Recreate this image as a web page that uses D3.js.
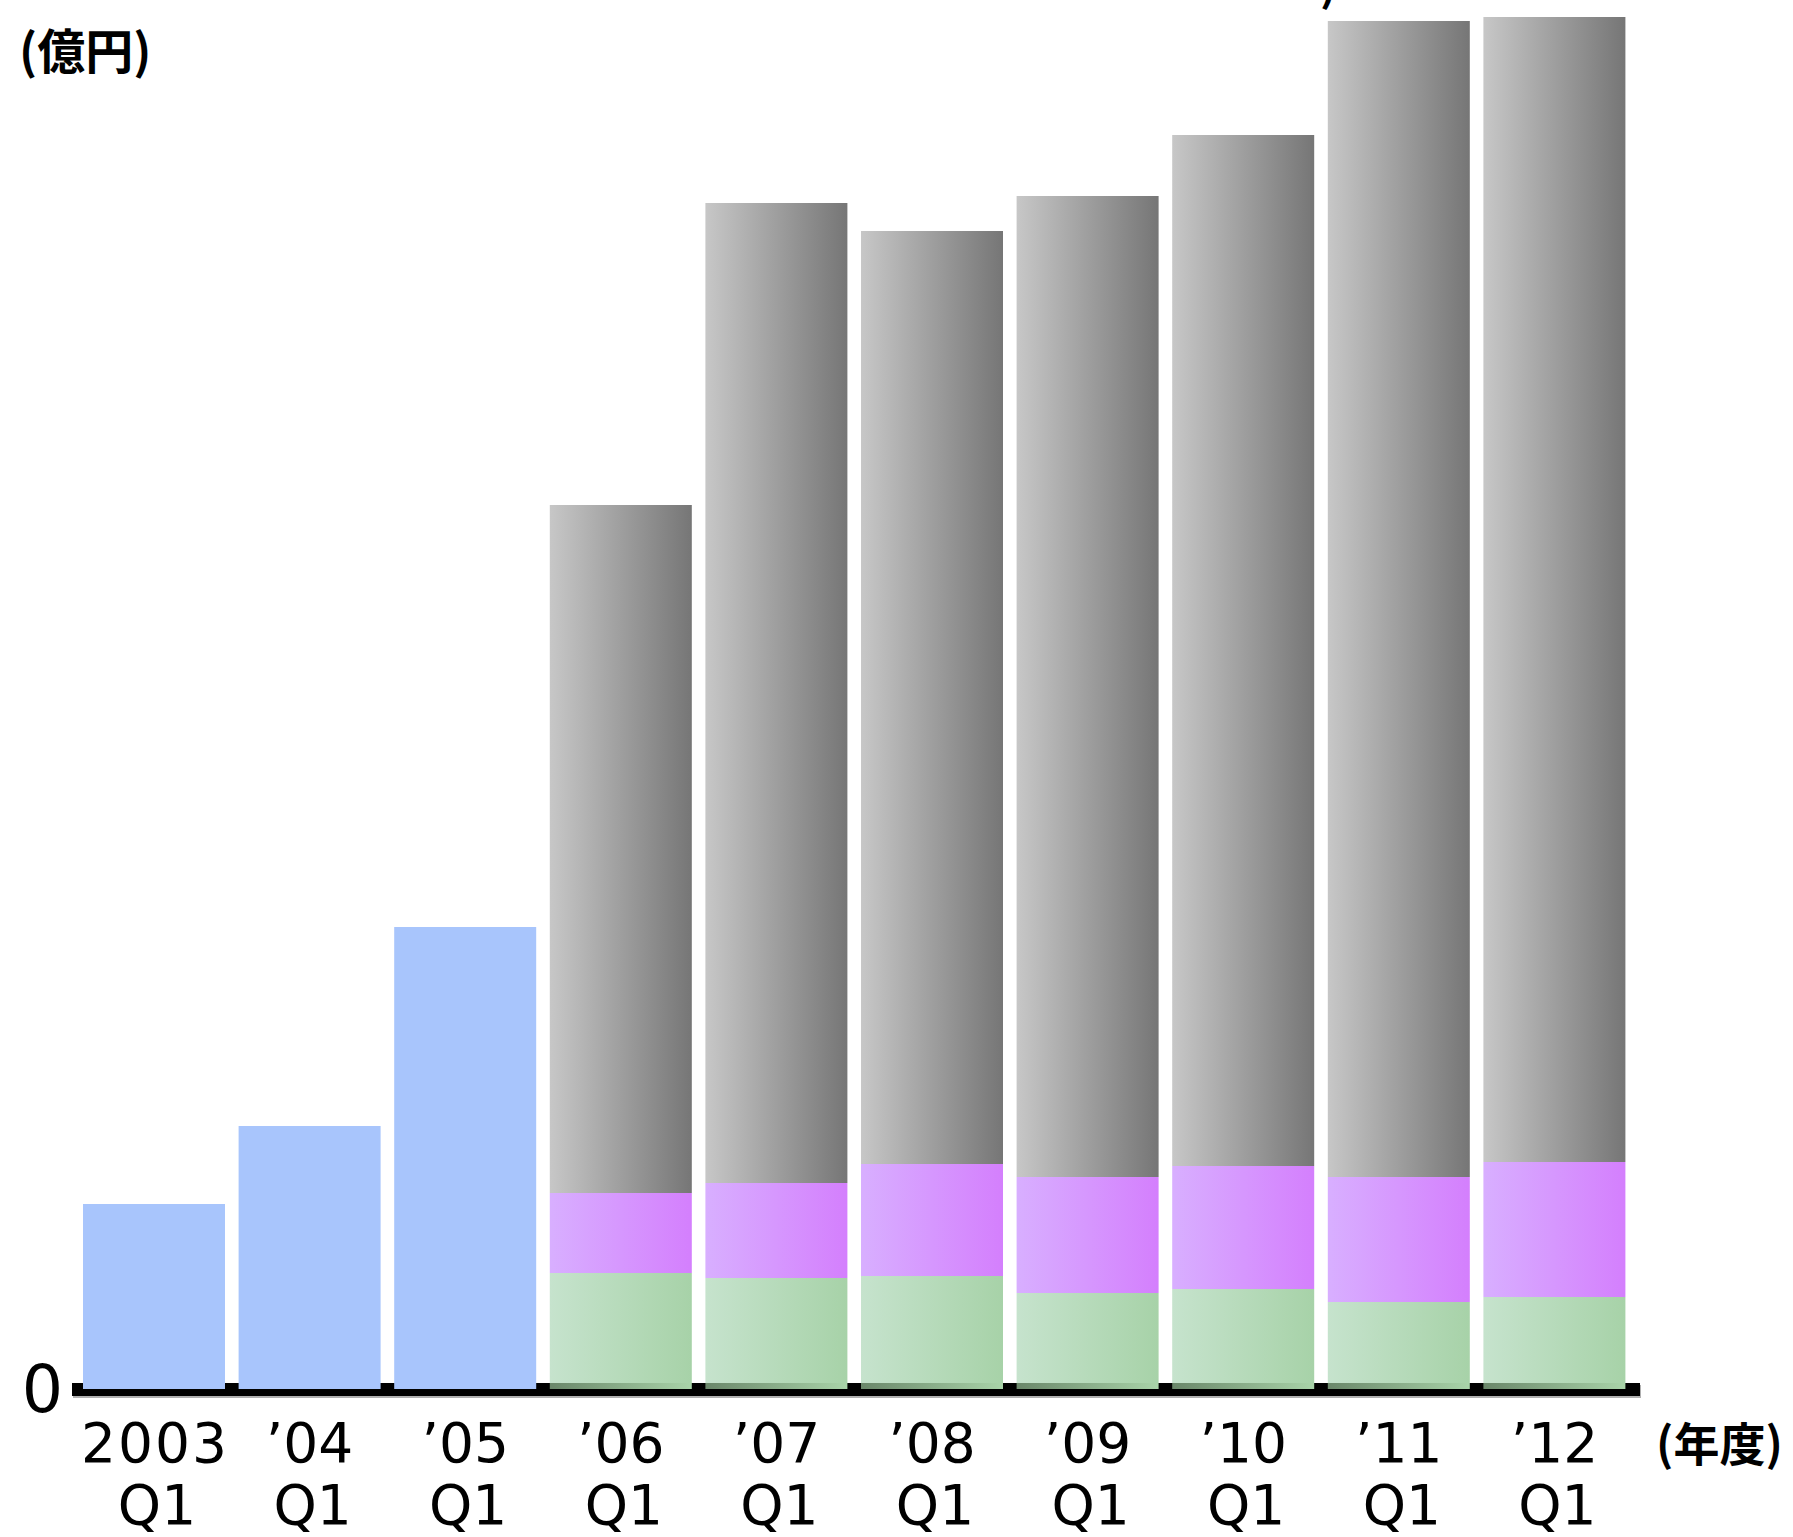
<!DOCTYPE html>
<html>
<head>
<meta charset="utf-8">
<script src="https://cdn.jsdelivr.net/npm/d3@7"></script>
<style>
  html, body { margin: 0; padding: 0; background: #ffffff; }
  svg { display: block; }
</style>
</head>
<body>
<script>
// ---- data (arbitrary units: 1 unit ≈ 1 px) ----
const years    = ["2003", "\u201904", "\u201905", "\u201906", "\u201907", "\u201908", "\u201909", "\u201910", "\u201911", "\u201912"];
const quarters = ["Q1", "Q1", "Q1", "Q1", "Q1", "Q1", "Q1", "Q1", "Q1", "Q1"];
const seriesBlue   = [185, 263, 462, 0, 0, 0, 0, 0, 0, 0];
const seriesStrip  = [0, 0, 0, 6, 6, 6, 6, 6, 6, 6];
const seriesGreen  = [0, 0, 0, 110, 105, 107, 90, 94, 81, 86];
const seriesPurple = [0, 0, 0, 80, 95, 112, 116, 123, 125, 135];
const seriesGray   = [0, 0, 0, 688, 980, 933, 981, 1031, 1156, 1145];
const yTickLabels  = ["0"];
const unitLabel = "(\u5104\u5186)";   // (億円)
const yearLabel = "(\u5e74\u5ea6)";   // (年度)

// ---- layout ----
const W = 1793, H = 1537;
const baseY = 1389;

const svg = d3.select("body").append("svg").attr("width", W).attr("height", H);

const defs = svg.append("defs");
function grad(id, c0, c1) {
  const g = defs.append("linearGradient").attr("id", id)
    .attr("x1", "0").attr("y1", "0").attr("x2", "1").attr("y2", "0");
  g.append("stop").attr("offset", "0").attr("stop-color", c0);
  g.append("stop").attr("offset", "1").attr("stop-color", c1);
}
grad("gGray", "#c7c7c7", "#767676");
grad("gPurple", "#d8afff", "#d47ffd");
grad("gGreen", "#c6e3cd", "#a7d2a8");
grad("gStrip", "#6a876a", "#a9d4a9");

const keys = ["blue", "strip", "green", "purple", "gray"];
const fills = { blue: "#a8c5fc", strip: "url(#gStrip)", green: "url(#gGreen)", purple: "url(#gPurple)", gray: "url(#gGray)" };

const table = years.map((y, i) => ({
  key: i, blue: seriesBlue[i], strip: seriesStrip[i], green: seriesGreen[i],
  purple: seriesPurple[i], gray: seriesGray[i]
}));

const pi = 1 - 142 / 155.6;
const x = d3.scaleBand().domain(d3.range(years.length))
  .range([76.2, 1632.2]).paddingInner(pi).paddingOuter(pi / 2);
const y = d3.scaleLinear().domain([0, baseY]).range([baseY, 0]);

// axis line (with faint shadow) drawn behind bars
svg.append("rect").attr("x", 73).attr("y", 1385).attr("width", 1568).attr("height", 13).attr("fill", "#b0b0b0");
svg.append("rect").attr("x", 72).attr("y", 1383).attr("width", 1568).attr("height", 13).attr("fill", "#000");

const stacked = d3.stack().keys(keys)(table);
svg.append("g").selectAll("g").data(stacked).join("g")
  .attr("fill", d => fills[d.key])
  .selectAll("rect").data(d => d.filter(s => s[1] - s[0] > 0)).join("rect")
  .attr("x", d => x(d.data.key))
  .attr("width", x.bandwidth())
  .attr("y", d => y(d[1]))
  .attr("height", d => y(d[0]) - y(d[1]));

// y tick "0"
svg.append("g").selectAll("text").data(yTickLabels).join("text")
  .attr("x", 63).attr("y", y(0) + 23)
  .attr("text-anchor", "end")
  .attr("font-family", "DejaVu Sans, sans-serif")
  .attr("font-size", 65)
  .attr("fill", "#000")
  .text(d => d);

// x labels (two lines per category)
const xl = svg.append("g").attr("font-family", "DejaVu Sans, sans-serif").attr("font-size", 55).attr("fill", "#000")
  .attr("text-anchor", "middle");
xl.selectAll("text.yr").data(years).join("text").attr("class", "yr")
  .attr("x", (d, i) => x(i) + x.bandwidth() / 2).attr("y", 1462)
  .attr("textLength", (d, i) => d.length === 4 ? 146 : null)
  .text(d => d);
xl.selectAll("text.q").data(quarters).join("text").attr("class", "q")
  .attr("x", (d, i) => x(i) + x.bandwidth() / 2 + 3).attr("y", 1524).text(d => d);

// unit labels
svg.append("text").attr("x", 19).attr("y", 69)
  .attr("font-family", "Noto Sans CJK JP, sans-serif").attr("font-weight", 700)
  .attr("font-size", 48).attr("fill", "#000").text(unitLabel);
svg.append("text").attr("x", 1656).attr("y", 1461)
  .attr("font-family", "Noto Sans CJK JP, sans-serif").attr("font-weight", 700)
  .attr("font-size", 46).attr("fill", "#000").text(yearLabel);

// clipped glyph at the very top (part of text outside the frame)
svg.append("text").attr("x", 1320).attr("y", 1)
  .attr("font-family", "Noto Sans CJK JP, sans-serif").attr("font-weight", 700)
  .attr("font-size", 44).attr("fill", "#000").text(")");
</script>
</body>
</html>
